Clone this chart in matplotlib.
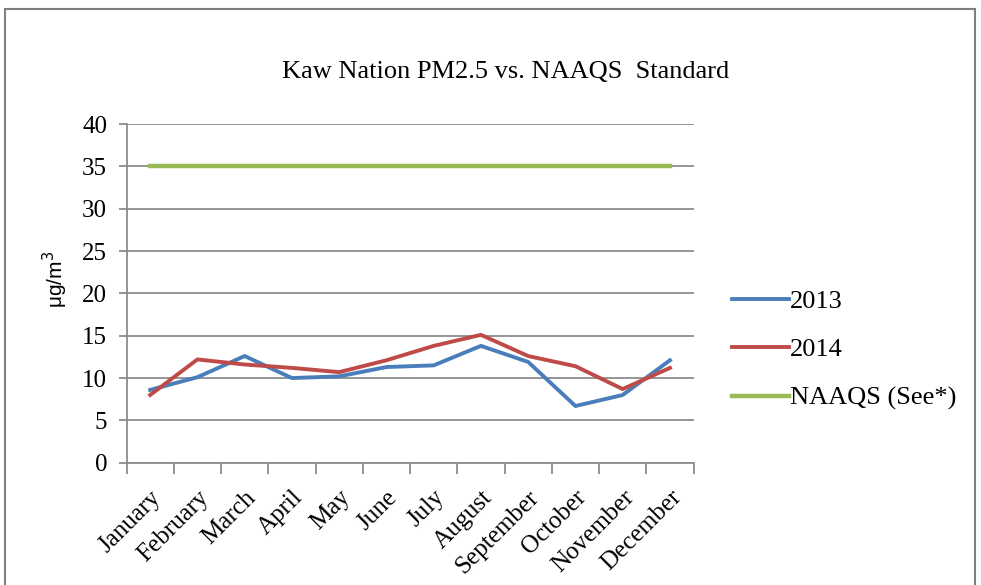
import numpy as np
import matplotlib
matplotlib.use('Agg')
import matplotlib.pyplot as plt
from matplotlib.patches import Rectangle

months = ['January', 'February', 'March', 'April', 'May', 'June', 'July',
          'August', 'September', 'October', 'November', 'December']
pm_2013 = [8.6, 10.1, 12.6, 10.0, 10.2, 11.3, 11.5, 13.8, 11.9, 6.7, 8.0, 12.1]
pm_2014 = [8.0, 12.2, 11.6, 11.2, 10.7, 12.1, 13.8, 15.1, 12.6, 11.4, 8.7, 11.2]
naaqs = [35] * 12
yticks = [0, 5, 10, 15, 20, 25, 30, 35, 40]

serif = ['Liberation Serif', 'DejaVu Serif']
sans = ['Liberation Sans', 'DejaVu Sans']

fig = plt.figure(figsize=(9.81, 5.85), dpi=100)
fig.patches.append(Rectangle((5 / 981, -0.05), 970 / 981, 1.05 - 9 / 585,
                             transform=fig.transFigure, fill=False,
                             edgecolor='#7f7f7f', linewidth=1.5))

ax = fig.add_axes([0.129, 0.209, 0.578, 0.579])
x = np.arange(len(months)) + 0.5
ax.plot(x, pm_2013, color='#4A7EBB', lw=2.8, label='2013', zorder=3)
ax.plot(x, pm_2014, color='#BE4B48', lw=2.8, label='2014', zorder=3)
ax.plot(x, naaqs, color='#98B954', lw=3.2, label='NAAQS (See*)', zorder=3)

ax.set_xlim(0, 12)
ax.set_ylim(0, 40)
ax.set_yticks(yticks)
ax.set_yticklabels([str(v) for v in yticks], family=serif, fontsize=18)
ax.yaxis.grid(True, color='#8c8c8c', lw=1.3)
ax.set_axisbelow(True)

ax.set_xticks(x)
ax.set_xticklabels(months, rotation=45, ha='right', rotation_mode='anchor',
                   family=serif, fontsize=18)
ax.set_xticks(np.arange(13), minor=True)
ax.tick_params(axis='x', which='major', length=0, pad=17)
ax.tick_params(axis='x', which='minor', length=8, color='#8c8c8c', width=1.3)
ax.tick_params(axis='y', length=6, color='#8c8c8c', width=1.3, pad=8)

for s in ['top', 'right']:
    ax.spines[s].set_visible(False)
for s in ['left', 'bottom']:
    ax.spines[s].set_color('#8c8c8c')
    ax.spines[s].set_linewidth(1.3)

ax.set_ylabel('μg/m$^3$', family=sans, fontsize=15)
ax.yaxis.set_label_coords(-0.10, 0.54)

fig.text(0.515, 0.877, 'Kaw Nation PM2.5 vs. NAAQS  Standard', ha='center',
         va='center', family=serif, fontsize=19)

ax.legend(loc='center left', bbox_to_anchor=(1.0, 0.333), frameon=False,
          prop={'family': serif, 'size': 19}, handlelength=2.15,
          handletextpad=0.05, labelspacing=0.95, borderaxespad=1.05)

fig.savefig('out.png', dpi=100)
